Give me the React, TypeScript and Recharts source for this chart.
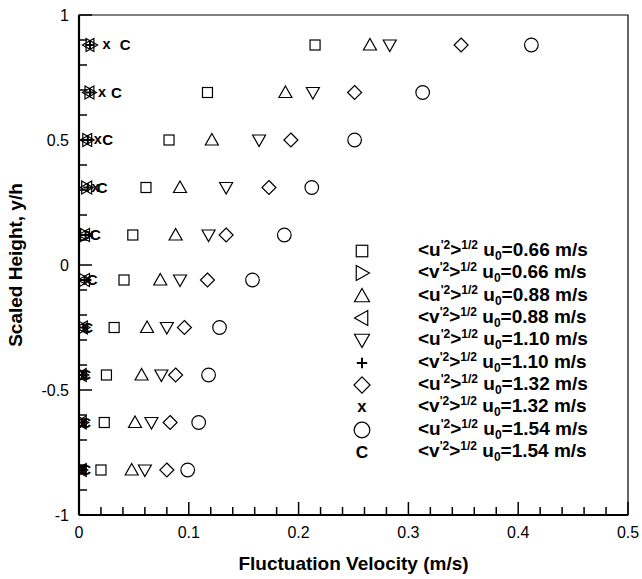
import { ScatterChart, Scatter, XAxis, YAxis, ReferenceArea, Legend } from 'recharts';

// scaled heights y/h of the ten measuring stations
const HEIGHTS = [0.88, 0.69, 0.5, 0.31, 0.12, -0.06, -0.25, -0.44, -0.63, -0.82];

// rms fluctuation velocity (m/s) at each height
const U066 = [0.215, 0.117, 0.082, 0.061, 0.049, 0.041, 0.032, 0.025, 0.023, 0.02];
const V066 = [0.011, 0.01, 0.008, 0.007, 0.006, 0.005, 0.004, 0.003, 0.003, 0.002];
const U088 = [0.265, 0.188, 0.121, 0.092, 0.088, 0.074, 0.062, 0.057, 0.051, 0.048];
const V088 = [0.009, 0.009, 0.007, 0.007, 0.005, 0.005, 0.003, 0.002, 0.002, 0.002];
const U110 = [0.283, 0.213, 0.164, 0.134, 0.118, 0.092, 0.08, 0.075, 0.066, 0.06];
const V110 = [0.01, 0.01, 0.008, 0.008, 0.006, 0.005, 0.004, 0.003, 0.003, 0.002];
const U132 = [0.348, 0.251, 0.193, 0.173, 0.134, 0.117, 0.096, 0.088, 0.083, 0.08];
const V132 = [0.025, 0.021, 0.017, 0.015, 0.01, 0.008, 0.006, 0.005, 0.004, 0.004];
const U154 = [0.412, 0.313, 0.251, 0.212, 0.187, 0.158, 0.128, 0.118, 0.109, 0.099];
const V154 = [0.042, 0.034, 0.026, 0.021, 0.015, 0.012, 0.008, 0.006, 0.006, 0.006];

const X_TICKS = [0, 0.02, 0.04, 0.06, 0.08, 0.1, 0.12, 0.14, 0.16, 0.18, 0.2, 0.22, 0.24, 0.26, 0.28, 0.3, 0.32, 0.34, 0.36, 0.38, 0.4, 0.42, 0.44, 0.46, 0.48, 0.5];
const X_MAJOR = [0, 0.1, 0.2, 0.3, 0.4, 0.5];
const Y_TICKS = [-1, -0.9, -0.8, -0.7, -0.6, -0.5, -0.4, -0.3, -0.2, -0.1, 0, 0.1, 0.2, 0.3, 0.4, 0.5, 0.6, 0.7, 0.8, 0.9, 1];
const Y_MAJOR = [-1, -0.5, 0, 0.5, 1];

const SERIES = [
  { key: 'u066', comp: 'u', speed: '0.66', marker: 'square', values: U066 },
  { key: 'v066', comp: 'v', speed: '0.66', marker: 'right', values: V066 },
  { key: 'u088', comp: 'u', speed: '0.88', marker: 'up', values: U088 },
  { key: 'v088', comp: 'v', speed: '0.88', marker: 'left', values: V088 },
  { key: 'u110', comp: 'u', speed: '1.10', marker: 'down', values: U110 },
  { key: 'v110', comp: 'v', speed: '1.10', marker: 'plus', values: V110 },
  { key: 'u132', comp: 'u', speed: '1.32', marker: 'diamond', values: U132 },
  { key: 'v132', comp: 'v', speed: '1.32', marker: 'x', values: V132 },
  { key: 'u154', comp: 'u', speed: '1.54', marker: 'circle', values: U154 },
  { key: 'v154', comp: 'v', speed: '1.54', marker: 'C', values: V154 },
];

const FONT = '"Liberation Sans", Arial, Helvetica, sans-serif';

function Marker({ kind, cx, cy, s = 1 }: { kind: string; cx: number; cy: number; s?: number }) {
  const st = { fill: 'none', stroke: '#000', strokeWidth: 1.2 };
  const p = (pts: number[][]) => pts.map(([a, b]) => `${cx + a * s},${cy + b * s}`).join(' ');
  switch (kind) {
    case 'square':
      return <rect x={cx - 5 * s} y={cy - 5 * s} width={10 * s} height={10 * s} {...st} />;
    case 'circle':
      return <circle cx={cx} cy={cy} r={6.8 * s} {...st} />;
    case 'up':
      return <polygon points={p([[0, -6.5], [6.5, 5], [-6.5, 5]])} {...st} />;
    case 'down':
      return <polygon points={p([[-6.5, -5], [6.5, -5], [0, 6.5]])} {...st} />;
    case 'right':
      return <polygon points={p([[-5, -6.5], [6.5, 0], [-5, 6.5]])} {...st} />;
    case 'left':
      return <polygon points={p([[5, -6.5], [-6.5, 0], [5, 6.5]])} {...st} />;
    case 'diamond':
      return <polygon points={p([[0, -7], [7, 0], [0, 7], [-7, 0]])} {...st} />;
    case 'plus':
      return (
        <path
          d={`M${cx - 4.5 * s},${cy} H${cx + 4.5 * s} M${cx},${cy - 4.5 * s} V${cy + 4.5 * s}`}
          stroke="#000"
          strokeWidth={2}
        />
      );
    case 'x':
      return (
        <text x={cx} y={cy} dy="0.3em" textAnchor="middle" fontFamily={FONT} fontWeight="bold" fontSize={14.5 * s} fill="#000">
          x
        </text>
      );
    default:
      return (
        <text x={cx} y={cy} dy="0.36em" textAnchor="middle" fontFamily={FONT} fontWeight="bold" fontSize={15 * s} fill="#000">
          C
        </text>
      );
  }
}

// ticks point into the plot; long ones on the labelled values
function XTick({ x, y, payload }: any) {
  const v = payload.value;
  const major = X_MAJOR.includes(v);
  return (
    <g>
      <path d={`M${x},${y} V${y - (major ? 13 : 8)}`} stroke="#000" strokeWidth={1.5} fill="none" />
      {major && (
        <text x={x} y={y + 23} textAnchor="middle" fontFamily={FONT} fontSize={16} fill="#000">
          {String(v)}
        </text>
      )}
    </g>
  );
}

function YTick({ x, y, payload }: any) {
  const v = payload.value;
  const major = Y_MAJOR.includes(v);
  return (
    <g>
      <path d={`M${x},${y} H${x + (major ? 13 : 8)}`} stroke="#000" strokeWidth={1.5} fill="none" />
      {major && (
        <text x={x - 10} y={y} dy="0.36em" textAnchor="end" fontFamily={FONT} fontSize={16} fill="#000">
          {String(v)}
        </text>
      )}
    </g>
  );
}

const sup = { fontSize: 12, position: 'relative' as const, top: -7 };
const sub = { fontSize: 12, position: 'relative' as const, top: 4 };

function LegendBox() {
  return (
    <div style={{ fontFamily: FONT, fontWeight: 'bold', fontSize: 19, color: '#000' }}>
      {SERIES.map((s) => (
        <div key={s.key} style={{ display: 'flex', alignItems: 'center', height: 22.3 }}>
          <svg width={24} height={22} style={{ overflow: 'visible' }}>
            <Marker kind={s.marker} cx={12} cy={11} s={1.15} />
          </svg>
          <span style={{ marginLeft: 44, whiteSpace: 'nowrap', lineHeight: '22px' }}>
            {'<' + s.comp}
            <span style={sup}>{"'2"}</span>
            {'>'}
            <span style={sup}>1/2</span> u<span style={sub}>0</span>={s.speed} m/s
          </span>
        </div>
      ))}
    </div>
  );
}

export default function App() {
  return (
    <div style={{ position: 'absolute', left: 0, top: 0, background: '#fff' }}>
      <ScatterChart width={642} height={579} margin={{ top: 15, right: 14, bottom: 0, left: 0 }}>
        <XAxis
          type="number"
          dataKey="x"
          domain={[0, 0.5]}
          ticks={X_TICKS}
          interval={0}
          height={64}
          tickSize={0}
          tickMargin={0}
          tick={<XTick />}
          axisLine={{ stroke: '#000', strokeWidth: 2.2 }}
          allowDataOverflow
          label={{
            content: ({ viewBox }: any) => (
              <text x={viewBox.x + viewBox.width / 2} y={viewBox.y + 55} textAnchor="middle" fontFamily={FONT} fontWeight="bold" fontSize={19} fill="#000">
                Fluctuation Velocity (m/s)
              </text>
            ),
          }}
        />
        <YAxis
          type="number"
          dataKey="y"
          domain={[-1, 1]}
          ticks={Y_TICKS}
          interval={0}
          width={79}
          tickSize={0}
          tickMargin={0}
          tick={<YTick />}
          axisLine={{ stroke: '#000', strokeWidth: 2.2 }}
          allowDataOverflow
          label={{
            content: ({ viewBox }: any) => {
              const cx = 22;
              const cy = viewBox.y + viewBox.height / 2;
              return (
                <text x={cx} y={cy} transform={`rotate(-90 ${cx} ${cy})`} textAnchor="middle" fontFamily={FONT} fontWeight="bold" fontSize={19} fill="#000">
                  Scaled Height, y/h
                </text>
              );
            },
          }}
        />
        <ReferenceArea x1={0} x2={0.5} y1={-1} y2={1} fill="none" stroke="#000" strokeWidth={1.2} />
        {SERIES.map((s) => (
          <Scatter
            key={s.key}
            name={s.key}
            data={HEIGHTS.map((h, i) => ({ x: s.values[i], y: h }))}
            isAnimationActive={false}
            shape={(p: any) => <Marker kind={s.marker} cx={p.cx} cy={p.cy} />}
          />
        ))}
        <Legend
          layout="vertical"
          align="center"
          verticalAlign="middle"
          content={() => <LegendBox />}
          wrapperStyle={{ position: 'absolute', left: 350, top: 240, width: 'auto', height: 'auto' }}
        />
      </ScatterChart>
    </div>
  );
}
